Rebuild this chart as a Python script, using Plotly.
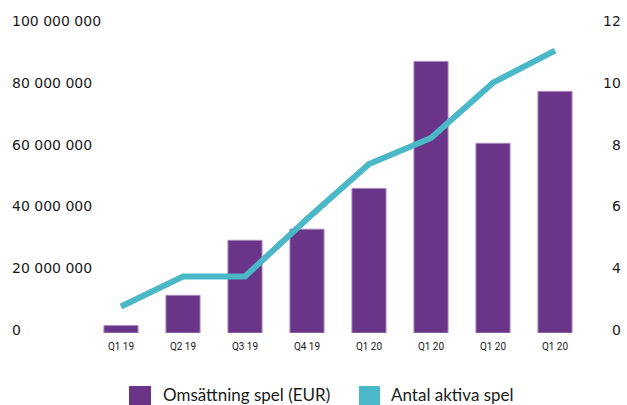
import plotly.graph_objects as go

# Quarterly data
quarters = ["Q1 19", "Q2 19", "Q3 19", "Q4 19", "Q1 20", "Q1 20", "Q1 20", "Q1 20"]
revenue_eur = [2_400_000, 12_200_000, 30_000_000, 33_600_000, 46_800_000, 87_900_000, 61_400_000, 78_200_000]
active_games = [2.86, 3.83, 3.83, 5.69, 7.47, 8.31, 10.1, 11.14]

left_ticks = [0, 20_000_000, 40_000_000, 60_000_000, 80_000_000, 100_000_000]
right_tick_vals = [2, 4, 6, 8, 10, 12]
right_tick_text = ["0", "4", "6", "8", "10", "12"]

PURPLE = "#6a3589"
CYAN = "#4bb8c8"
TEXT = "#1a1a1a"

W, H = 627, 405
ML, MR, MT, MB = 90, 41, 24, 72
PW, PH = W - ML - MR, H - MT - MB


def px_x(px):
    return (px - ML) / PW


def px_y(py):
    return (H - MB - py) / PH


x_idx = list(range(len(quarters)))

fig = go.Figure()
fig.add_trace(go.Bar(
    x=x_idx, y=revenue_eur, width=0.55,
    marker=dict(color=PURPLE, line=dict(color="#a88bbd", width=1)),
    showlegend=False, name="Omsättning spel (EUR)",
))
fig.add_trace(go.Scatter(
    x=x_idx, y=active_games, yaxis="y2", mode="lines",
    line=dict(color=CYAN, width=6),
    showlegend=False, name="Antal aktiva spel",
))

annotations = []
for v in left_ticks:
    annotations.append(dict(
        x=px_x(10), xref="paper", y=v, yref="y", yshift=3,
        text=f"{v:,}".replace(",", " "), showarrow=False, xanchor="left",
        font=dict(family="DejaVu Sans", size=14, color=TEXT),
    ))
for v, t in zip(right_tick_vals, right_tick_text):
    annotations.append(dict(
        x=px_x(623), xref="paper", y=v, yref="y2", yshift=3,
        text=t, showarrow=False, xanchor="right",
        font=dict(family="DejaVu Sans", size=14, color=TEXT),
    ))

# Legend drawn as swatches + labels
shapes = []
legend_items = [(129, 151, 161, PURPLE, "Omsättning spel (EUR)"),
                (359, 380, 389, CYAN, "Antal aktiva spel")]
for x0, x1, tx, col, label in legend_items:
    shapes.append(dict(type="rect", xref="paper", yref="paper",
                       x0=px_x(x0), x1=px_x(x1), y0=px_y(408), y1=px_y(386),
                       fillcolor=col, line=dict(width=0)))
    annotations.append(dict(
        x=px_x(tx), xref="paper", y=px_y(394), yref="paper",
        text=label, showarrow=False, xanchor="left", yanchor="middle",
        font=dict(family="Lato", size=17, color=TEXT),
    ))

fig.update_layout(
    width=W, height=H,
    margin=dict(l=ML, r=MR, t=MT, b=MB, pad=0),
    paper_bgcolor="white", plot_bgcolor="white",
    xaxis=dict(range=[-0.5, 7.5], tickvals=x_idx, ticktext=quarters,
               showgrid=False, zeroline=False, showline=False, ticks="",
               ticklabelstandoff=6,
               tickfont=dict(family="Roboto", size=10, color=TEXT)),
    yaxis=dict(range=[0, 100_000_000], showgrid=False, zeroline=False,
               showticklabels=False, showline=False),
    yaxis2=dict(range=[2, 12], overlaying="y", side="right", showgrid=False,
                zeroline=False, showticklabels=False, showline=False),
    annotations=annotations, shapes=shapes,
    bargap=0.45,
)

fig.write_html("out.html")
